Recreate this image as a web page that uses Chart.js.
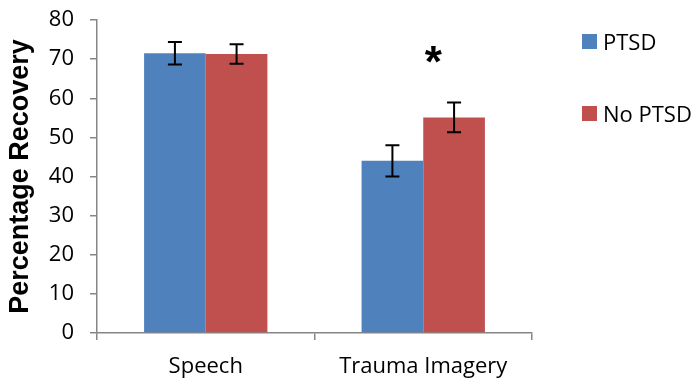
<!DOCTYPE html>
<html lang="en">
<head>
<meta charset="UTF-8">
<title>Percentage Recovery</title>
<script src="https://cdn.jsdelivr.net/npm/chart.js@4.4.0/dist/chart.umd.min.js"></script>
<style>
  body { margin: 0; background: #fff; }
  #wrap { position: relative; width: 695px; height: 379px; }
  .leg { position: absolute; left: 582px; font: 22px "Open Sans", sans-serif; color: #000; display: flex; align-items: center; line-height: 30px; }
  .leg span.sw { display: inline-block; width: 15px; height: 15px; margin-right: 6px; }
</style>
</head>
<body>
<div id="wrap">
  <canvas id="myChart" width="695" height="379"></canvas>
  <div class="leg" style="top:26px"><span class="sw" style="background:#4F81BD"></span>PTSD</div>
  <div class="leg" style="top:98px"><span class="sw" style="background:#C0504D"></span>No PTSD</div>
</div>
<script>
// values
var categories = ['Speech', 'Trauma Imagery'];
var ptsd = [71.5, 44.0];
var ptsdErr = [2.9, 4.0];
var noPtsd = [71.3, 55.1];
var noPtsdErr = [2.5, 3.8];
var yTicks = [0, 10, 20, 30, 40, 50, 60, 70, 80];

var errors = [ptsdErr, noPtsdErr];

// error bars + significance star
var errorBars = {
  id: 'errorBars',
  afterDatasetsDraw: function (chart) {
    var ctx = chart.ctx;
    var y = chart.scales.y;
    ctx.save();
    ctx.strokeStyle = '#000';
    ctx.lineWidth = 2;
    chart.data.datasets.forEach(function (ds, di) {
      chart.getDatasetMeta(di).data.forEach(function (bar, i) {
        var v = ds.data[i], e = errors[di][i];
        var top = y.getPixelForValue(v + e), bot = y.getPixelForValue(v - e);
        ctx.beginPath();
        ctx.moveTo(bar.x, top); ctx.lineTo(bar.x, bot);
        ctx.moveTo(bar.x - 7, top); ctx.lineTo(bar.x + 7, top);
        ctx.moveTo(bar.x - 7, bot); ctx.lineTo(bar.x + 7, bot);
        ctx.stroke();
      });
    });
    // star over Trauma Imagery
    var x = chart.scales.x;
    var cx = x.getPixelForValue(1) + 10;
    ctx.fillStyle = '#000';
    ctx.font = 'bold 44px "Liberation Sans", sans-serif';
    ctx.textAlign = 'center';
    ctx.textBaseline = 'middle';
    ctx.fillText('*', cx, y.getPixelForValue(68.5));
    ctx.restore();
  }
};

var ctx = document.getElementById('myChart').getContext('2d');
var chart = new Chart(ctx, {
  type: 'bar',
  data: {
    labels: categories,
    datasets: [{
      label: 'PTSD',
      backgroundColor: '#4F81BD',
      data: ptsd
    }, {
      label: 'No PTSD',
      backgroundColor: '#C0504D',
      data: noPtsd
    }]
  },
  options: {
    responsive: false,
    animation: false,
    categoryPercentage: 0.567,
    barPercentage: 1,
    layout: { padding: { top: 20, right: 163, left: 0, bottom: 0 } },
    plugins: {
      legend: { display: false },
      tooltip: { enabled: false }
    },
    scales: {
      x: {
        grid: { offset: true, drawOnChartArea: false, color: '#868686', tickLength: 7, lineWidth: 1.5 },
        border: { color: '#868686', width: 1.5 },
        ticks: { color: '#000', font: { family: 'Open Sans', size: 22 }, padding: 14 },
        afterFit: function (s) { s.height = 46; }
      },
      y: {
        min: 0, max: 80,
        afterBuildTicks: function (s) { s.ticks = yTicks.map(function (v) { return { value: v }; }); },
        grid: { drawOnChartArea: false, color: '#868686', tickLength: 7, lineWidth: 1.5 },
        border: { color: '#868686', width: 1.5 },
        ticks: { color: '#000', font: { family: 'Open Sans', size: 22 }, padding: 16 },
        title: { display: true, text: 'Percentage Recovery', color: '#000', font: { family: 'Liberation Sans', size: 27, weight: 'bold' }, padding: { top: 4, bottom: 0 } },
        afterFit: function (s) { s.width = 97; s.paddingTop = 0; s.paddingBottom = 0; }
      }
    }
  },
  plugins: [errorBars]
});
</script>
</body>
</html>
